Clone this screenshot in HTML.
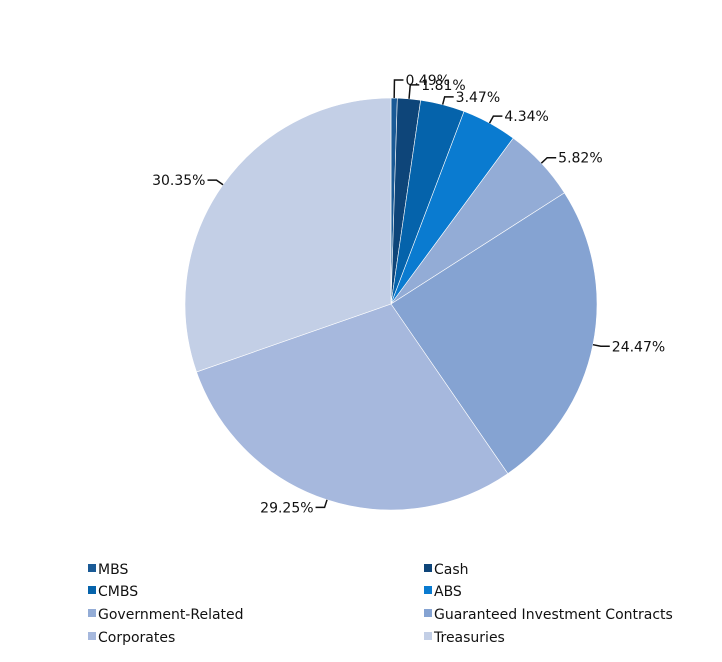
<!DOCTYPE html>
<html><head><meta charset="utf-8"><style>
body{margin:0;background:#fff;width:722px;height:658px;overflow:hidden;font-family:"DejaVu Sans","Liberation Sans",sans-serif}
svg text{font-family:"DejaVu Sans","Liberation Sans",sans-serif;font-size:14px;fill:#111}
</style></head><body>
<svg id="chart" width="722" height="658" xmlns="http://www.w3.org/2000/svg"></svg>
<script>
const categories=["MBS","Cash","CMBS","ABS","Government-Related","Guaranteed Investment Contracts","Corporates","Treasuries"];
const values=[0.49,1.81,3.47,4.34,5.82,24.47,29.25,30.35];
const labels=["0.49%","1.81%","3.47%","4.34%","5.82%","24.47%","29.25%","30.35%"];
const colors=["#1a5a96","#0e4579","#0563ab","#0a7bd0","#93acd6","#85a3d2","#a6b8dd","#c3cfe6"];
const NS="http://www.w3.org/2000/svg";
const svg=document.getElementById("chart");
const cx=391,cy=304,r=206;
const total=values.reduce((a,b)=>a+b,0);
function pt(a,rr){return [cx+rr*Math.sin(a),cy-rr*Math.cos(a)];}
function mk(t,attrs){const e=document.createElementNS(NS,t);for(const k in attrs)e.setAttribute(k,attrs[k]);svg.appendChild(e);return e;}
let cum=0;
values.forEach((v,i)=>{
  const a0=cum/total*2*Math.PI;cum+=v;const a1=cum/total*2*Math.PI;
  const [x0,y0]=pt(a0,r),[x1,y1]=pt(a1,r);
  const large=(a1-a0)>Math.PI?1:0;
  const p=mk("path",{d:`M${cx},${cy}L${x0},${y0}A${r},${r} 0 ${large} 1 ${x1},${y1}Z`,fill:colors[i],stroke:"#fff","stroke-width":0.6});
  
  
  const am=(a0+a1)/2;
  const right=Math.sin(am)>=0;
  const extra=i===0?18:(i===1?14:8);
  const [ex,ey]=pt(am,r),[mx,my]=pt(am,r+extra);
  const hx=mx+(right?9:-9);
  const ln=mk("polyline",{points:`${ex},${ey} ${mx},${my} ${hx},${my}`,fill:"none",stroke:"#111","stroke-width":1.5});
  
  
  const t=mk("text",{x:hx+(right?2:-2),y:my+5,"text-anchor":right?"start":"end"});
  t.textContent=labels[i];
  
  
});
// legend
const lx=[88,424],ly=[569,591,614,637];
categories.forEach((c,i)=>{
  const col=i%2,row=Math.floor(i/2);
  const g=mk("g",{});
  
  
  const s=document.createElementNS(NS,"rect");
  s.setAttribute("x",lx[col]);s.setAttribute("y",ly[row]-5);s.setAttribute("width",8);s.setAttribute("height",8);s.setAttribute("fill",colors[i]);
  
  
  g.appendChild(s);
  const t=document.createElementNS(NS,"text");
  t.setAttribute("x",lx[col]+10);t.setAttribute("y",ly[row]+5);t.textContent=c;
  
  
  g.appendChild(t);
});
</script>
</body></html>
